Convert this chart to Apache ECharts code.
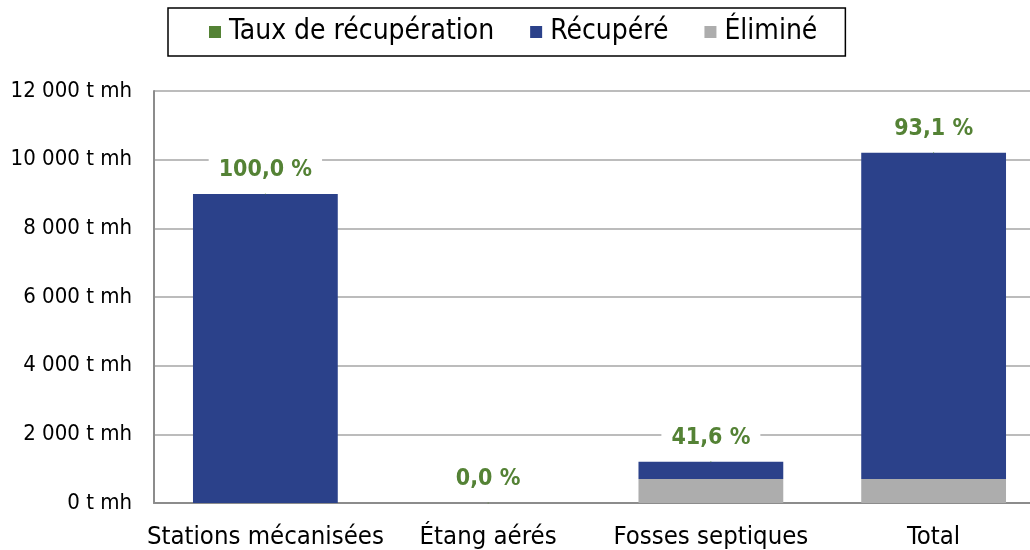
<!DOCTYPE html>
<html>
<head>
<meta charset="utf-8">
<script src="https://cdn.jsdelivr.net/npm/echarts@6/dist/echarts.min.js"></script>
<style>html,body{margin:0;padding:0;background:#fff;}#c{width:1030px;height:550px;}</style>
</head>
<body>
<div id="c"></div>
<script>
const categories = ['Stations mécanisées', 'Étang aérés', 'Fosses septiques', 'Total'];
const recupere = [9000, 0, 498, 9498];
const elimine = [0, 0, 700, 700];
const tauxRecuperation = [100.0, 0.0, 41.6, 93.1];
const yTicks = [0, 2000, 4000, 6000, 8000, 10000, 12000];

const FONT = '"DejaVu Sans Condensed", "DejaVu Sans", sans-serif';
const GREEN = '#548235', BLUE = '#2B418A', GRAY = '#ADADAD';

const totals = categories.map((c, i) => elimine[i] + recupere[i]);
const fmtTick = v => String(v).replace(/\B(?=(\d{3})+(?!\d))/g, ' ') + ' t mh';

const chart = echarts.init(document.getElementById('c'), null, {renderer: 'canvas'});
chart.setOption({
  animation: false,
  textStyle: {fontFamily: FONT},
  legend: {
    data: ['Taux de récupération', 'Récupéré', 'Éliminé'],
    left: 168, top: 8,
    padding: [10, 28, 10, 41],
    borderColor: '#000', borderWidth: 1.5,
    icon: 'rect', itemWidth: 12, itemHeight: 12, itemGap: 36,
    itemStyle: {opacity: 1},
    textStyle: {fontFamily: FONT, fontSize: 28, color: '#000', padding: [0, 0, 0, 3]}
  },
  grid: {left: 154, width: 891, top: 91, bottom: 47, outerBoundsMode: 'none'},
  xAxis: {
    type: 'category', data: categories,
    axisLine: {lineStyle: {color: '#8c8c8c', width: 2}},
    axisTick: {show: false},
    axisLabel: {fontFamily: FONT, fontSize: 25.5, color: '#000', margin: 21, interval: 0}
  },
  yAxis: {
    type: 'value', min: yTicks[0], max: yTicks[yTicks.length - 1], interval: 2000,
    axisLine: {show: true, lineStyle: {color: '#8c8c8c', width: 2}},
    axisTick: {show: false},
    splitLine: {lineStyle: {color: '#a6a6a6', width: 1.5}},
    axisLabel: {fontFamily: FONT, fontSize: 22, color: '#000', margin: 22, formatter: fmtTick}
  },
  series: [
    {name: 'Éliminé', type: 'bar', stack: 's', data: elimine, barWidth: '65%', itemStyle: {color: GRAY}},
    {name: 'Récupéré', type: 'bar', stack: 's', data: recupere, itemStyle: {color: BLUE}},
    {
      name: 'Taux de récupération', type: 'scatter', data: totals, symbolSize: 1,
      itemStyle: {color: GREEN, opacity: 1},
      label: {
        show: true, position: 'top', distance: 12, opacity: 1,
        formatter: p => tauxRecuperation[p.dataIndex].toFixed(1).replace('.', ',') + ' %',
        fontFamily: FONT, fontSize: 23, fontWeight: 'bold', color: GREEN,
        backgroundColor: '#fff', padding: [2, 10, 0, 10]
      }
    }
  ]
});
</script>
</body>
</html>
